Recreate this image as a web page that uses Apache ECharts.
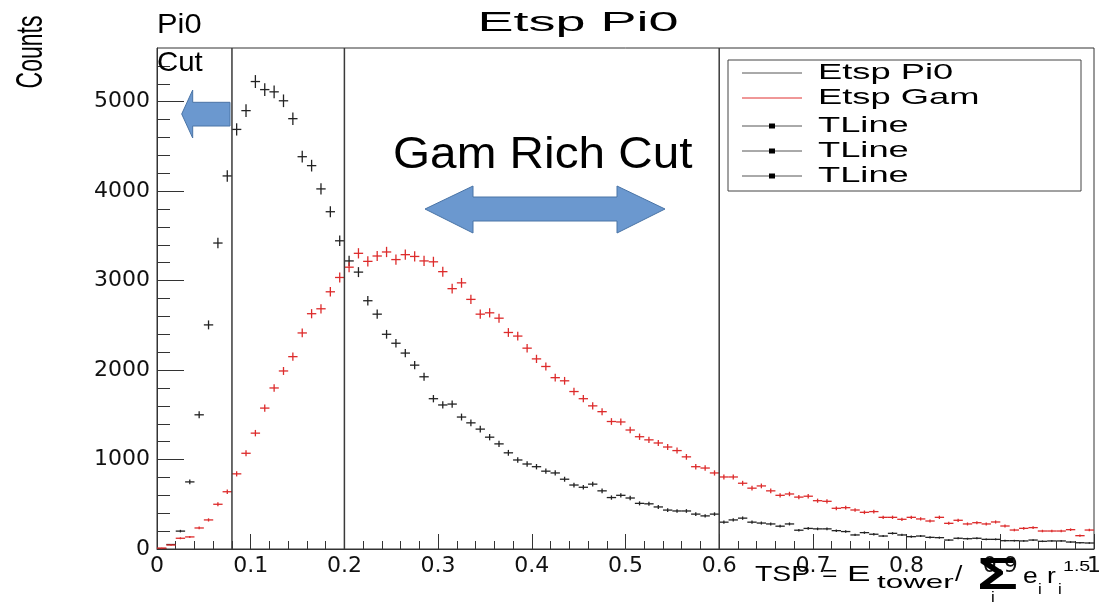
<!DOCTYPE html>
<html><head><meta charset="utf-8">
<script src="https://cdn.jsdelivr.net/npm/echarts@6/dist/echarts.min.js"></script>
<style>html,body{margin:0;padding:0;background:#fff}#c{width:1104px;height:604px}</style>
</head><body><div id="c"></div>
<script>
// ---- data ----
const binWidth = 0.01;            // 100 bins over [0,1]
const pi0Counts = [
  5, 50, 200, 750, 1500, 2505, 3420, 4170, 4690, 4900,
  5225, 5135, 5110, 5010, 4810, 4385, 4285, 4025, 3770, 3445,
  3220, 3095, 2775, 2625, 2400, 2300, 2190, 2055, 1925, 1680,
  1610, 1620, 1475, 1410, 1340, 1250, 1175, 1075, 995, 950,
  920, 870, 850, 780, 715, 690, 725, 650, 575, 600,
  570, 510, 505, 470, 435, 425, 425, 390, 370, 390,
  300, 325, 345, 300, 290, 280, 255, 280, 210, 230,
  225, 225, 205, 195, 157, 183, 165, 145, 175, 157,
  138, 145, 130, 127, 100, 120, 115, 120, 108, 108,
  93, 93, 90, 100, 86, 90, 90, 78, 70, 67
];
const gamCounts = [
  10, 45, 120, 135, 235, 325, 500, 640, 840, 1070,
  1295, 1575, 1800, 1990, 2150, 2415, 2630, 2685, 2875, 3035,
  3150, 3305, 3215, 3275, 3320, 3235, 3290, 3270, 3220, 3210,
  3100, 2910, 2975, 2790, 2625, 2640, 2580, 2420, 2380, 2245,
  2125, 2040, 1915, 1880, 1760, 1680, 1600, 1535, 1425, 1420,
  1330, 1255, 1220, 1185, 1140, 1100, 1030, 920, 905, 850,
  805, 805, 735, 680, 705, 650, 600, 615, 580, 590,
  540, 533, 455, 462, 436, 410, 418, 354, 354, 332,
  354, 336, 313, 354, 287, 321, 280, 294, 280, 302,
  257, 212, 231, 239, 201, 201, 201, 216, 149, 212
];
const cutLines = [0.08, 0.2, 0.6];
const xTickLabels = ['0','0.1','0.2','0.3','0.4','0.5','0.6','0.7','0.8','0.9','1'];
const yTickValues = [0, 1000, 2000, 3000, 4000, 5000];
const yTickLabels = ['0','1000','2000','3000','4000','5000'];
const yMinorTicks = [200,400,600,800,1200,1400,1600,1800,2200,2400,2600,2800,3200,3400,3600,3800,4200,4400,4600,4800,5200,5400];
const yMax = 5600;
const legendNames = ['Etsp Pi0','Etsp Gam','TLine','TLine','TLine'];
const titleText = 'Etsp Pi0';
const yTitle = 'Counts';

// ---- drawing ----
const pi0Data = pi0Counts.map((v, i) => [(i + 0.5) * binWidth, v]);
const gamData = gamCounts.map((v, i) => [(i + 0.5) * binWidth, v]);

function histItem(color) {
  return function (params, api) {
    const x = api.value(0), y = api.value(1);
    const c = api.coord([x, y]);
    const hw = api.size([binWidth, 0])[0] / 2;
    const e = Math.sqrt(y);
    const top = api.coord([x, y + e])[1];
    const bot = api.coord([x, Math.max(0, y - e)])[1];
    return { type: 'group', children: [
      { type: 'line', shape: { x1: c[0] - hw, y1: c[1], x2: c[0] + hw, y2: c[1] }, style: { stroke: color, lineWidth: 1.3 } },
      { type: 'line', shape: { x1: c[0], y1: top, x2: c[0], y2: bot }, style: { stroke: color, lineWidth: 1.3 } }
    ]};
  };
}
function cutItem(params, api) {
  const p0 = api.coord([api.value(0), 0]);
  const p1 = api.coord([api.value(0), yMax]);
  return { type: 'line', shape: { x1: p0[0], y1: p0[1], x2: p1[0], y2: p1[1] }, style: { stroke: '#3a3a3a', lineWidth: 1.5 } };
}

const F = '"Liberation Sans", Arial, sans-serif';
function txt(text, x, y, size, sx, extra) {
  return Object.assign({ type: 'text', x: x, y: y, scaleX: sx || 1, z: 120,
    style: { text: text, font: size + 'px ' + F, fill: '#000', align: 'left', verticalAlign: 'middle' } }, extra || {});
}

const legendRows = [73, 98, 126, 151, 176];
const legendGraphics = [
  { type: 'rect', shape: { x: 728, y: 60, width: 353, height: 131 }, style: { fill: '#fff', stroke: '#444', lineWidth: 1 }, z: 110 }
];
legendNames.forEach((n, k) => {
  const y = legendRows[k];
  legendGraphics.push({ type: 'line', shape: { x1: 742, y1: y, x2: 802, y2: y }, style: { stroke: k === 1 ? '#e03030' : '#555', lineWidth: 1 }, z: 115 });
  if (k >= 2) legendGraphics.push({ type: 'rect', shape: { x: 769, y: y - 2.5, width: 6, height: 5 }, style: { fill: '#000' }, z: 116 });
  legendGraphics.push(txt(n, 818, y, 22, 1.65));
});

const arrowStyle = { fill: '#6b98cf', stroke: '#4a74a6', lineWidth: 1 };
const graphics = [
  txt(titleText, 578, 24, 27, 2.0, { style: { text: titleText, font: '27px ' + F, fill: '#000', align: 'center', verticalAlign: 'middle' } }),
  txt('Pi0', 157, 25, 28, 1.1),
  txt('Cut', 157, 63, 28, 1.05),
  txt('Gam Rich Cut', 393, 156, 45, 1.06),
  { type: 'text', x: 32, y: 52, rotation: Math.PI / 2, scaleY: 1.6, z: 120,
    style: { text: yTitle, font: '23px ' + F, fill: '#000', align: 'center', verticalAlign: 'middle' } },
  // x-axis title pieces: TSP = E_tower / Σ_i e_i r_i^1.5
  txt('TSP', 755, 575, 22, 1.29),
  txt('=', 822, 575, 22, 1.2),
  txt('E', 847, 575, 22, 1.6),
  txt('tower', 877, 583, 19, 1.65),
  txt('/', 955, 575, 22, 1.2),
  { type: 'text', x: 977, y: 577, scaleX: 1.55, z: 120, style: { text: '\u03A3', font: 'bold 44px ' + F, fill: '#000', align: 'left', verticalAlign: 'middle' } },
  txt('i', 991, 598, 14, 1.2),
  txt('e', 1023, 577, 22, 1.2),
  txt('i', 1038, 590, 14, 1.2),
  txt('r', 1047, 577, 22, 1.2),
  txt('i', 1058, 590, 14, 1.2),
  txt('1.5', 1063, 567, 14, 1.4),
  // arrows
  { type: 'polygon', z: 105, shape: { points: [[181.7,114],[192.7,90],[192.7,102.3],[230,102.3],[230,126],[192.7,126],[192.7,138]] }, style: arrowStyle },
  { type: 'polygon', z: 105, shape: { points: [[425,209],[473,186],[473,197],[617,197],[617,186],[665,209],[617,233],[617,221],[473,221],[473,233]] }, style: arrowStyle }
].concat(legendGraphics);

const axisColor = '#333';
const option = {
  animation: false,
  backgroundColor: '#fff',
  grid: { left: 157, right: 7, top: 48, bottom: 55, show: true, borderColor: axisColor, borderWidth: 1, backgroundColor: 'transparent' },
  xAxis: {
    type: 'value', min: 0, max: 1, interval: 0.1,
    axisLine: { show: true, lineStyle: { color: axisColor, width: 1 } },
    axisTick: { show: true, inside: true, length: 15, lineStyle: { color: axisColor, width: 1 } },
    minorTick: { show: true, splitNumber: 5, length: 8, lineStyle: { color: axisColor, width: 1 } },
    splitLine: { show: false }, minorSplitLine: { show: false },
    axisLabel: { margin: 6, fontFamily: 'DejaVu Sans', fontSize: 22, color: '#111',
      formatter: v => xTickLabels[Math.round(v * 10)] }
  },
  yAxis: [
    { type: 'value', min: 0, max: yMax, position: 'left',
      axisLine: { show: true, lineStyle: { color: axisColor, width: 1 } },
      axisTick: { show: true, inside: true, length: 27, customValues: yTickValues, lineStyle: { color: axisColor, width: 1 } },
      splitLine: { show: false },
      axisLabel: { margin: 7, fontFamily: 'DejaVu Sans', fontSize: 22, color: '#111', customValues: yTickValues,
        formatter: v => yTickLabels[yTickValues.indexOf(v)] } },
    { type: 'value', min: 0, max: yMax, position: 'left', offset: 0,
      axisLine: { show: false },
      axisTick: { show: true, inside: true, length: 13, customValues: yMinorTicks, lineStyle: { color: axisColor, width: 1 } },
      splitLine: { show: false }, axisLabel: { show: false } }
  ],
  series: [
    { type: 'custom', name: 'Etsp Pi0', renderItem: histItem('#222'), data: pi0Data, encode: { x: 0, y: 1 }, clip: true, z: 3 },
    { type: 'custom', name: 'Etsp Gam', renderItem: histItem('#dd2b2b'), data: gamData, encode: { x: 0, y: 1 }, clip: true, z: 4 },
    { type: 'custom', name: 'TLine', renderItem: cutItem, data: cutLines.map(x => [x, 0]), encode: { x: 0, y: 1 }, z: 5 }
  ],
  graphic: graphics
};
const chart = echarts.init(document.getElementById('c'), null, { renderer: 'canvas' });
chart.setOption(option);
</script>
</body></html>
